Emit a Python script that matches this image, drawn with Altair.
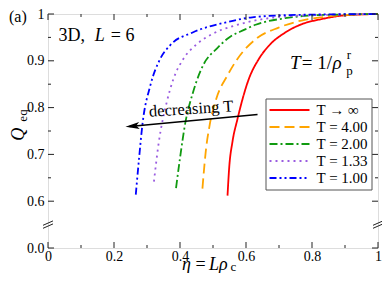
import altair as alt
import pandas as pd

# ---- data ----
series_names = ["T → ∞", "T = 4.00", "T = 2.00", "T = 1.33", "T = 1.00"]
series_colors = ["#ff0000", "#ffa500", "#109a10", "#9a5ce0", "#0000ff"]
series_dashes = [[1, 0], [10, 5], [8, 3, 2, 3], [2, 4], [7, 3, 2, 3, 2, 3]]

eta_inf = [0.544, 0.549, 0.559, 0.574, 0.609, 0.639, 0.669, 0.718, 0.768, 0.828, 0.898, 1.0]
q_inf = [0.612, 0.671, 0.727, 0.775, 0.862, 0.904, 0.932, 0.960, 0.978, 0.989, 0.997, 1.0]

eta_t4 = [0.468, 0.478, 0.490, 0.510, 0.544, 0.574, 0.629, 0.699, 0.768, 0.828, 0.900, 1.0]
q_t4 = [0.627, 0.706, 0.763, 0.819, 0.869, 0.904, 0.946, 0.971, 0.986, 0.993, 0.998, 1.0]

eta_t2 = [0.388, 0.400, 0.415, 0.440, 0.472, 0.510, 0.549, 0.594, 0.629, 0.718, 0.800, 0.900, 1.0]
q_t2 = [0.628, 0.692, 0.763, 0.834, 0.893, 0.925, 0.950, 0.966, 0.977, 0.991, 0.997, 0.999, 1.0]

eta_t133 = [0.321, 0.336, 0.360, 0.380, 0.410, 0.450, 0.500, 0.569, 0.650, 0.750, 1.0]
q_t133 = [0.642, 0.727, 0.812, 0.861, 0.904, 0.935, 0.958, 0.976, 0.989, 0.996, 1.0]

eta_t1 = [0.266, 0.276, 0.286, 0.310, 0.340, 0.370, 0.440, 0.539, 0.619, 0.750, 1.0]
q_t1 = [0.614, 0.692, 0.763, 0.847, 0.904, 0.933, 0.961, 0.982, 0.993, 0.998, 1.0]

x_major = [0, 0.2, 0.4, 0.6, 0.8, 1.0]
x_minor = [0.1, 0.3, 0.5, 0.7, 0.9]
y_major = [0.5, 0.6, 0.7, 0.8, 0.9, 1.0]   # 0.5 is drawn as the broken-axis "0.0"
y_minor = [0.65, 0.75, 0.85, 0.95]
y_break = 0.55

arrow_start = (0.635, 0.7855)
arrow_tip = (0.235, 0.759)

# ---- build tables ----
rows = []
for name, xs, ys in zip(series_names,
                        [eta_inf, eta_t4, eta_t2, eta_t133, eta_t1],
                        [q_inf, q_t4, q_t2, q_t133, q_t1]):
    for i, (a, b) in enumerate(zip(xs, ys)):
        rows.append({"series": name, "eta": a, "Q": b, "order": i})
curves = pd.DataFrame(rows)

W, H = 330, 234
FONT = "Liberation Serif, Times New Roman, serif"
xscale = alt.Scale(domain=[0, 1], nice=False, zero=False)
yscale = alt.Scale(domain=[0.5, 1], nice=False, zero=False)

xaxis = alt.Axis(values=x_major, title=None, ticks=False, domain=False, grid=False,
                 labelExpr="datum.value == 0 ? '0' : (datum.value == 1 ? '1' : format(datum.value, '.1f'))",
                 labelPadding=1, labelFlush=False, labelFont=FONT, labelFontSize=14, labelColor="black")
yaxis = alt.Axis(values=y_major, title=None, ticks=False, domain=False, grid=False,
                 labelExpr="datum.value < 0.55 ? '0.0' : (datum.value == 1 ? '1' : format(datum.value, '.1f'))",
                 labelPadding=4, labelFlush=False, labelFont=FONT, labelFontSize=14, labelColor="black")

X = lambda f: alt.X(f, scale=xscale, axis=xaxis)
Y = lambda f: alt.Y(f, scale=yscale, axis=yaxis)

leg = alt.Legend(orient="none", legendX=217.5, legendY=84.5, title=None,
                 symbolType="stroke", symbolSize=1600, symbolStrokeWidth=2,
                 labelFont=FONT, labelFontSize=15, labelColor="black",
                 strokeColor="#555555", fillColor="white", padding=3,
                 clipHeight=17, labelOffset=6, rowPadding=0)

lines = alt.Chart(curves).mark_line(strokeWidth=1.8, interpolate="monotone").encode(
    x=X("eta:Q"), y=Y("Q:Q"),
    order="order:Q",
    color=alt.Color("series:N", sort=series_names,
                    scale=alt.Scale(domain=series_names, range=series_colors), legend=leg),
    strokeDash=alt.StrokeDash("series:N", sort=series_names,
                              scale=alt.Scale(domain=series_names, range=series_dashes), legend=leg),
)

# inward ticks on all four sides
def xticks(vals, length, top):
    base = alt.Chart(pd.DataFrame({"eta": vals})).mark_rule(color="#222222", strokeWidth=1)
    if top:
        return base.encode(x=X("eta:Q"), y=alt.value(0), y2=alt.value(length))
    return base.encode(x=X("eta:Q"), y=alt.value(H), y2=alt.value(H - length))

def yticks(vals, length, right):
    base = alt.Chart(pd.DataFrame({"Q": vals})).mark_rule(color="#222222", strokeWidth=1)
    if right:
        return base.encode(y=Y("Q:Q"), x=alt.value(W), x2=alt.value(W - length))
    return base.encode(y=Y("Q:Q"), x=alt.value(0), x2=alt.value(length))

ticks = [xticks(x_major, 6, False), xticks(x_minor, 3, False), xticks(x_major, 6, True), xticks(x_minor, 3, True),
         yticks(y_major, 6, False), yticks(y_minor, 3, False), yticks(y_major, 6, True), yticks(y_minor, 3, True)]

# axis-break marks
brk = pd.DataFrame({"eta": [0.0, 1.0], "Q": [y_break, y_break]})
breaks = []
for dy in (-1.5, 1.5):
    breaks.append(alt.Chart(brk).mark_rule(color="#222222", strokeWidth=1,
                                           xOffset=-5, x2Offset=5, yOffset=dy + 2.2, y2Offset=dy - 2.2).encode(
        x=X("eta:Q"), x2="eta:Q", y=Y("Q:Q"), y2="Q:Q"))

# arrow
arr = pd.DataFrame({"eta": [arrow_start[0]], "Q": [arrow_start[1]],
                    "eta2": [arrow_tip[0] + 0.012], "Q2": [arrow_tip[1] + 0.0008]})
arrow_line = alt.Chart(arr).mark_rule(color="black", strokeWidth=1.5).encode(
    x=X("eta:Q"), y=Y("Q:Q"), x2="eta2:Q", y2="Q2:Q")
head = pd.DataFrame({"eta": [arrow_tip[0] + 0.0209], "Q": [arrow_tip[1] + 0.0014]})
arrow_head = alt.Chart(head).mark_point(shape="M-1,0 L1,-0.5 L0.55,0 L1,0.5 Z", filled=True,
                                        color="black", opacity=1, size=196, angle=354.7).encode(
    x=X("eta:Q"), y=Y("Q:Q"))

one = pd.DataFrame({"a": [0]})

def txt(s, x, y, size, italic=False, align="left", angle=0):
    kw = dict(text=s, font=FONT, fontSize=size, color="black", align=align, baseline="alphabetic")
    if italic:
        kw["fontStyle"] = "italic"
    if angle:
        kw["angle"] = angle
    return alt.Chart(one).mark_text(**kw).encode(x=alt.value(x), y=alt.value(y))

texts = [
    txt("(a)", -39, 8, 16),
    txt("3D,", 10.5, 26.5, 18),
    txt("L", 46.7, 26.5, 18, italic=True),
    txt("= 6", 62.8, 26.5, 18),
    txt("T", 242, 54.7, 19, italic=True),
    txt("= 1/", 253.8, 54.7, 19),
    txt("ρ", 284.4, 54.7, 19, italic=True),
    txt("p", 298.2, 61.1, 13),
    txt("r", 298.7, 44.7, 13),
    txt("decreasing T", 143.5, 100, 16.5, align="center", angle=356.3),
    txt("η", 134, 256, 18, italic=True),
    txt("=", 147.5, 256, 18),
    txt("Lρ", 161, 256, 18, italic=True),
    txt("c", 182.5, 257.3, 13),
    txt("Q", -24.5, 120.3, 18, italic=True, align="center", angle=270),
    txt("eq", -21.5, 101.5, 13, align="center", angle=270),
]

chart = alt.layer(lines, *ticks, *breaks, arrow_line, arrow_head, *texts).properties(
    width=W, height=H,
    autosize=alt.AutoSizeParams(type="none"),
    padding={"left": 40, "top": 6, "right": 4, "bottom": 25},
).configure_view(stroke="#222222", strokeWidth=1).configure(background="white")

chart.save("out.html", embed_options={"renderer": "svg", "actions": False})
